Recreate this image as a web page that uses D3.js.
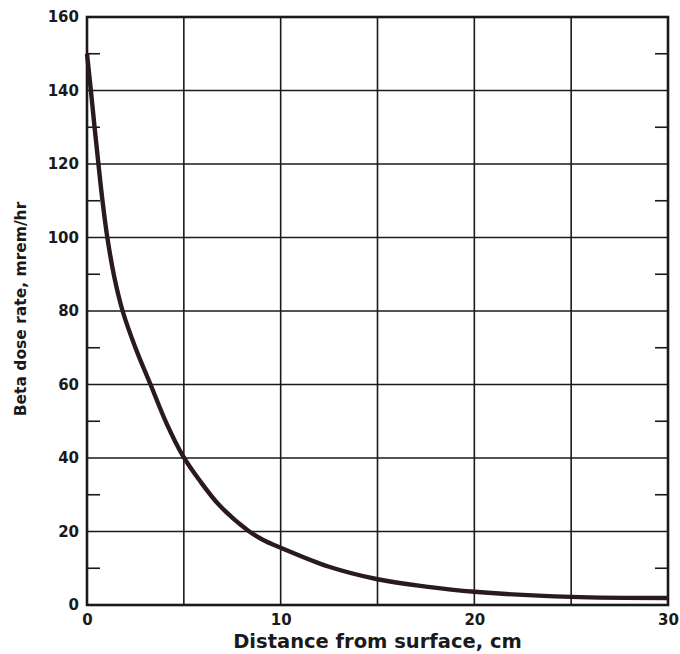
<!DOCTYPE html>
<html>
<head>
<meta charset="utf-8">
<script src="https://cdn.jsdelivr.net/npm/d3@7"></script>
<style>
  body { margin: 0; background: #fff; }
  svg text { font-family: "DejaVu Sans", Arial, sans-serif; font-weight: bold; fill: #1a1a1a; }
</style>
</head>
<body>
<div id="chart"></div>
<script>
// curve
var distance = [0, 0.2, 0.4, 0.6, 0.8, 1.05, 1.4, 1.84, 2.5, 3.28, 4.1, 4.96, 5.8, 6.86, 8.31, 9.1, 10, 12.5, 15, 17.5, 20, 25, 30];
var dose     = [150, 140, 129.5, 119.5, 110, 100, 89.5, 80, 70, 60, 49.5, 40.5, 34, 27, 20.3, 17.7, 15.6, 10.4, 7, 5, 3.6, 2.2, 1.9];

var xGrid = [0, 5, 10, 15, 20, 25, 30];
var xLabels = [0, 10, 20, 30];
var yGrid = [0, 20, 40, 60, 80, 100, 120, 140, 160];
var yMinor = [10, 30, 50, 70, 90, 110, 130, 150];

var svgWidth = 680, svgHeight = 654;
var margin = { top: 17, right: 12, bottom: 49, left: 87 };
var width = svgWidth - margin.left - margin.right
  , height = svgHeight - margin.top - margin.bottom;

var svg = d3.select('#chart').append('svg')
  .attr('width', svgWidth)
  .attr('height', svgHeight);

var g = svg.append('g')
  .attr('transform', 'translate(' + margin.left + ',' + margin.top + ')');

var x = d3.scaleLinear().domain([0, 30]).range([0, width]);
var y = d3.scaleLinear().domain([0, 160]).range([height, 0]);

// grid
g.append('g').selectAll('line')
  .data(xGrid.slice(1, -1))
  .enter().append('line')
  .attr('x1', d => x(d)).attr('x2', d => x(d))
  .attr('y1', 0).attr('y2', height)
  .attr('stroke', '#1a1a1a').attr('stroke-width', 1.6);

g.append('g').selectAll('line')
  .data(yGrid.slice(1, -1))
  .enter().append('line')
  .attr('x1', 0).attr('x2', width)
  .attr('y1', d => y(d)).attr('y2', d => y(d))
  .attr('stroke', '#1a1a1a').attr('stroke-width', 1.6);

// minor ticks inside, both sides
var tickLen = 13;
g.append('g').selectAll('line')
  .data(yMinor)
  .enter().append('line')
  .attr('x1', 0).attr('x2', tickLen)
  .attr('y1', d => y(d)).attr('y2', d => y(d))
  .attr('stroke', '#1a1a1a').attr('stroke-width', 1.6);
g.append('g').selectAll('line')
  .data(yMinor)
  .enter().append('line')
  .attr('x1', width - tickLen).attr('x2', width)
  .attr('y1', d => y(d)).attr('y2', d => y(d))
  .attr('stroke', '#1a1a1a').attr('stroke-width', 1.6);

// frame
g.append('rect')
  .attr('x', 0).attr('y', 0)
  .attr('width', width).attr('height', height)
  .attr('fill', 'none')
  .attr('stroke', '#1a1a1a').attr('stroke-width', 2.6);

// the curve
var line = d3.line()
  .x((d, i) => x(distance[i]))
  .y(d => y(d))
  .curve(d3.curveCatmullRom.alpha(0.5));

g.append('path')
  .datum(dose)
  .attr('d', line)
  .attr('fill', 'none')
  .attr('stroke', '#2b1a1c')
  .attr('stroke-width', 4.4)
  .attr('stroke-linejoin', 'round');

// tick labels
var yAxis = d3.axisLeft(y).tickValues(yGrid).tickSize(0).tickPadding(8);
g.append('g').call(yAxis)
  .call(s => s.select('.domain').remove())
  .selectAll('text')
  .style('font-size', '15px')
  .attr('fill', '#1a1a1a');

var xAxis = d3.axisBottom(x).tickValues(xLabels).tickSize(0).tickPadding(9);
g.append('g')
  .attr('transform', 'translate(0,' + height + ')')
  .call(xAxis)
  .call(s => s.select('.domain').remove())
  .selectAll('text')
  .style('font-size', '15px')
  .attr('fill', '#1a1a1a');

// axis titles
svg.append('text')
  .attr('x', margin.left + width / 2)
  .attr('y', 648)
  .attr('text-anchor', 'middle')
  .style('font-size', '19.5px')
  .text('Distance from surface, cm');

svg.append('text')
  .attr('transform', 'translate(26,309)rotate(-90)')
  .attr('text-anchor', 'middle')
  .style('font-size', '15.5px')
  .text('Beta dose rate, mrem/hr');
</script>
</body>
</html>
